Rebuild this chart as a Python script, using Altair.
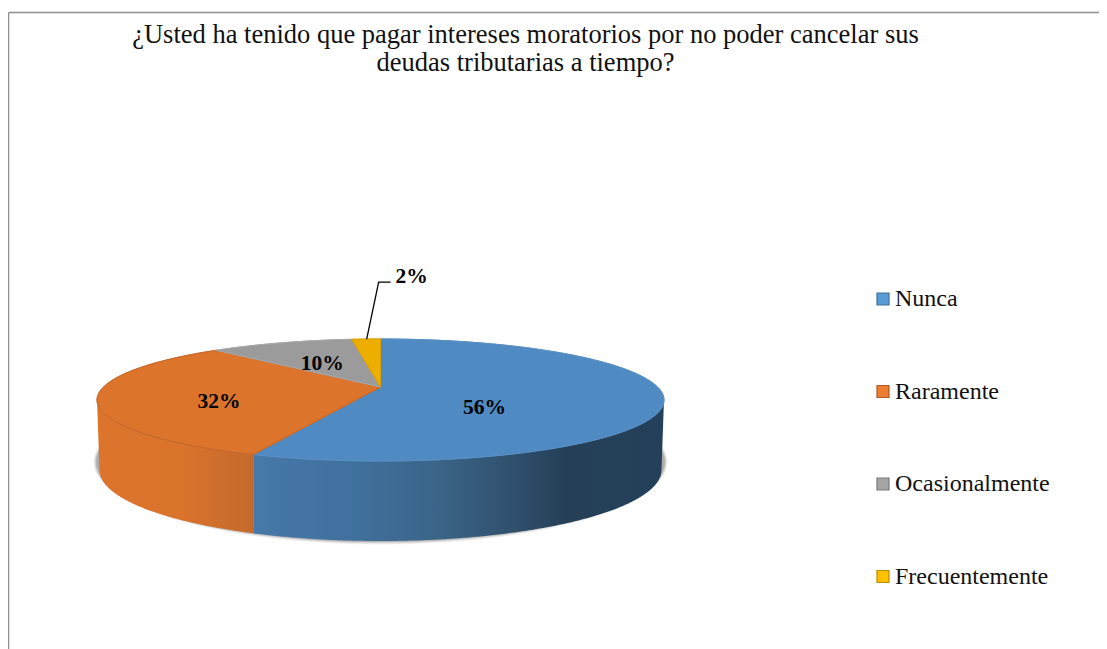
import numpy as np
import pandas as pd
import altair as alt

categorias = ["Nunca", "Raramente", "Ocasionalmente", "Frecuentemente"]
porcentajes = [56, 32, 10, 2]
color_top = ["#4f8ac3", "#dc742c", "#9b9b9b", "#eeae00"]
color_edge = ["#5a8fc4", "#c2662c", "#a8a8a8", "#d9a000"]
color_legend = ["#5b9bd5", "#ed7d31", "#a5a5a5", "#ffc000"]
color_legend_edge = ["#41719c", "#ae5a21", "#787878", "#bc8c00"]
titulo = ["¿Usted ha tenido que pagar intereses moratorios por no poder cancelar sus",
          "deudas tributarias a tiempo?"]

W, H = 1091, 641
CX, CY, RX, RY = 380.5, 400.0, 283.5, 61.0
BCY, BRX, BRY = 470.0, 281.0, 71.0
A = 0.213


def proj(theta_deg, r=1.0):
    t = np.radians(theta_deg)
    u, v = r * np.sin(t), r * np.cos(t)
    d = 1 + A * v
    return CX + RX * u * np.sqrt(1 - A * A) / d, CY - RY * (v + A) / d


def wedge(t0, t1):
    ts = np.arange(t0, t1, 1.0).tolist() + [t1]
    rx_, ry_ = proj(np.array(ts))
    ax, ay = proj(0.0, 0.0)
    px = np.concatenate([[ax], rx_])
    py = np.concatenate([[ay], ry_])
    xs = np.unique(np.round(px, 6))
    rows = []
    n = len(px)
    for x in xs:
        ys = []
        for i in range(n):
            x1, y1, x2, y2 = px[i], py[i], px[(i + 1) % n], py[(i + 1) % n]
            if abs(x1 - x2) < 1e-5:
                if abs(x - x1) < 1e-5:
                    ys += [y1, y2]
            elif min(x1, x2) - 1e-6 <= x <= max(x1, x2) + 1e-6:
                ys.append(y1 + (y2 - y1) * (x - x1) / (x2 - x1))
        rows.append((x, min(ys), max(ys)))
    return pd.DataFrame(rows, columns=["x", "y", "y2"])


def wall_bottom(x):
    d = np.abs(x - CX)
    out = BCY + BRY * np.sqrt(np.clip(1 - (d / BRX) ** 2, 0, 1))
    over = d > BRX
    out = np.where(over, CY + (BCY - CY) * (RX - d) / (RX - BRX), out)
    return out


def wall(x_min, x_max):
    ang = np.radians(np.arange(0, 180.5, 0.5))
    xs = CX + RX * np.cos(ang)
    xs = xs[(xs >= x_min) & (xs <= x_max)]
    xs = np.unique(np.concatenate([xs, [x_min, x_max]]))
    top = CY + RY * np.sqrt(np.clip(1 - ((xs - CX) / RX) ** 2, 0, 1))
    return pd.DataFrame({"x": xs, "y": top, "y2": wall_bottom(xs)})


X = alt.X("x:Q", scale=alt.Scale(domain=[8, 8 + W], range=[0, W]), axis=None)
Y = alt.Y("y:Q", scale=alt.Scale(domain=[8, 8 + H], range=[0, H]), axis=None)
Y2 = alt.Y2("y2:Q")


def area(df, **kw):
    return alt.Chart(df).mark_area(**kw).encode(x=X, y=Y, y2=Y2)


def grad(stops):
    return alt.Gradient(
        gradient="linear", x1=0, x2=1, y1=0, y2=0,
        stops=[alt.GradientStop(offset=o, color=c) for o, c in stops],
    )


cum = np.cumsum([0] + porcentajes) * 3.6
layers = []

# soft shadow under the pie
for grow, op in [(3.5, 0.05), (2.6, 0.07), (1.7, 0.10), (0.8, 0.14)]:
    ang = np.radians(np.arange(0, 180.5, 0.5))
    xs = CX + (RX + grow) * np.cos(ang)
    sc = BCY - 8
    ext = (BRY + 8 + grow) * np.sin(ang)
    layers.append(area(pd.DataFrame({"x": xs, "y": sc - ext, "y2": sc + ext}),
                       color="#000000", opacity=op))

# side wall
xb = float(proj(cum[1])[0])
layers.append(area(wall(xb, CX + RX), color=grad([
    (0.0, "#4679a9"), (0.25, "#40709c"), (0.45, "#3a6488"), (0.62, "#31526f"),
    (0.76, "#253f57"), (1.0, "#24405a")])))
layers.append(area(wall(CX - RX, xb), color=grad([
    (0.0, "#dc742c"), (0.55, "#da732c"), (0.8, "#cd6e2c"), (1.0, "#c46a2c")])))

# top face
for i, cat in enumerate(categorias):
    t0, t1 = float(cum[i]), float(cum[i + 1])
    parts = [(t0, 180.0), (180.0, t1)] if t0 < 180 < t1 else [(t0, t1)]
    for a, b in parts:
        layers.append(area(wedge(a, b), color=color_top[i], stroke=color_top[i], strokeWidth=1))
    # thin outline of the slice
    ts = np.arange(t0, t1, 1.0).tolist() + [t1]
    ex, ey = proj(np.array(ts))
    ax, ay = proj(0.0, 0.0)
    outline = pd.DataFrame({
        "x": np.concatenate([[ax], ex, [ax]]),
        "y": np.concatenate([[ay], ey, [ay]]),
        "o": np.arange(len(ex) + 2),
    })
    layers.append(alt.Chart(outline).mark_line(color=color_edge[i], strokeWidth=1).encode(
        x=X, y=Y, order="o:Q"))

# data labels: slice mid-angle, then a nudge like a moved data label
label_r = [0.37, 0.58, 0.50, 1.0]
label_nudge = [(1, 4), (0, -5), (2, -8), (49, -62)]
mids = (cum[:-1] + cum[1:]) / 2
lab = pd.DataFrame({
    "x": [CX + r * RX * np.sin(np.radians(m)) + n[0]
          for r, m, n in zip(label_r, mids, label_nudge)],
    "y": [CY - r * RY * np.cos(np.radians(m)) + n[1]
          for r, m, n in zip(label_r, mids, label_nudge)],
    "t": [f"{p}%" for p in porcentajes],
})
labels = alt.Chart(lab).mark_text(
    font="Liberation Serif", fontSize=21.5, fontWeight="bold", color="#000000",
    align="center", baseline="middle").encode(x=X, y=Y, text="t:N")

# leader line for the smallest slice
sx, sy = proj(float(mids[3]))
leader = alt.Chart(pd.DataFrame({
    "x": [sx + 0.5, sx + 12.5, sx + 24.5],
    "y": [sy, sy - 57, sy - 57],
    "o": [0, 1, 2],
})).mark_line(color="#000000", strokeWidth=1.3).encode(x=X, y=Y, order="o:Q")

# chart border
border = [
    alt.Chart(pd.DataFrame({"a": [0]})).mark_rule(color="#8f8f8f", strokeWidth=1.5).encode(
        x=alt.value(0.5), x2=alt.value(W), y=alt.value(4.5)),
    alt.Chart(pd.DataFrame({"a": [0]})).mark_rule(color="#8f8f8f", strokeWidth=1.5).encode(
        x=alt.value(0.5), y=alt.value(4.5), y2=alt.value(H)),
]

# legend
leg_df = pd.DataFrame({"cat": categorias, "x": [900.0] * 4, "y": [300.0] * 4})
legend_layer = alt.Chart(leg_df).mark_square(opacity=0, size=1).encode(
    x=X, y=Y,
    fill=alt.Fill("cat:N", scale=alt.Scale(domain=categorias, range=color_legend),
                  legend=alt.Legend(
                      title=None, orient="none", legendX=863, legendY=279,
                      symbolType="square", symbolSize=144, symbolOpacity=1,
                      symbolStrokeWidth=1.2, labelFontSize=24,
                      labelFont="Liberation Serif", labelColor="#111111",
                      labelOffset=0, rowPadding=68.5, padding=0, labelLimit=300)),
    stroke=alt.Stroke("cat:N", scale=alt.Scale(domain=categorias, range=color_legend_edge),
                      legend=None),
)

chart = alt.layer(*layers, labels, leader, *border, legend_layer).properties(
    width=W, height=H,
    padding=0,
    autosize=alt.AutoSizeParams(type="none"),
    title=alt.TitleParams(
        text=titulo, font="Liberation Serif", fontSize=26.5, fontWeight="normal",
        color="#111111", anchor="middle", dx=-28, dy=89, lineHeight=28, baseline="alphabetic",
        orient="top", offset=0),
).configure_view(stroke=None)

chart.save("out.html", embed_options={"renderer": "svg", "actions": False})
